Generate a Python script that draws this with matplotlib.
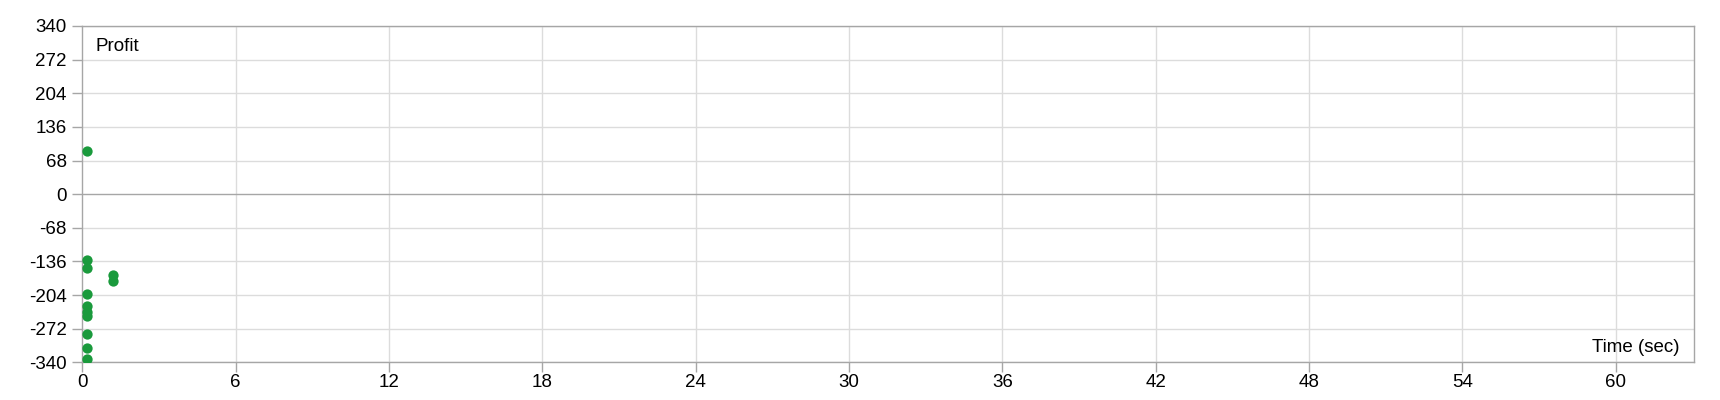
import numpy as np
import matplotlib
matplotlib.use("Agg")
import matplotlib.pyplot as plt

# data
time_sec = [0.2, 0.2, 0.2, 0.2, 0.2, 0.2, 0.2, 0.2, 0.2, 0.2, 1.2, 1.2]
profit = [88, -134, -150, -201, -226, -238, -247, -283, -312, -334, -164, -176]

y_ticks = [-340, -272, -204, -136, -68, 0, 68, 136, 204, 272, 340]
x_ticks = [0, 6, 12, 18, 24, 30, 36, 42, 48, 54, 60]

plt.rcParams['font.family'] = ['Liberation Sans', 'DejaVu Sans']

fig = plt.figure(figsize=(17.2, 4.0), dpi=100)
ax = fig.add_axes([82.3 / 1720, 1 - 362.3 / 400, (1694.3 - 82.3) / 1720, (362.3 - 26) / 400])

# grid
for t in y_ticks:
    if t == 0:
        ax.axhline(t, color="#a6a6a6", lw=1, zorder=1)
    else:
        ax.axhline(t, color="#dcdcdc", lw=1, zorder=0)
for t in x_ticks[1:]:
    ax.axvline(t, color="#dcdcdc", lw=1, zorder=0)

ax.scatter(time_sec, profit, s=55, color="#1a9a3c", zorder=3, linewidths=0)

ax.set_xlim(0, 63.07)
ax.set_ylim(-340, 340)
ax.set_xticks(x_ticks)
ax.set_yticks(y_ticks)
ax.set_yticklabels([str(t) for t in y_ticks])

for s in ax.spines.values():
    s.set_color("#a6a6a6")
    s.set_linewidth(1)

ax.tick_params(axis="both", colors="#a6a6a6", length=7.2, width=1, labelsize=13.5,
               labelcolor="black")
ax.tick_params(axis="x", pad=1)
ax.tick_params(axis="y", pad=4)

fig.text(95.7 / 1720, 1 - 50.7 / 400, "Profit", fontsize=13.5, ha="left", va="baseline")
fig.text(1680 / 1720, 1 - 351.7 / 400, "Time (sec)", fontsize=13.5, ha="right", va="baseline")

fig.savefig("out.png", dpi=100)
